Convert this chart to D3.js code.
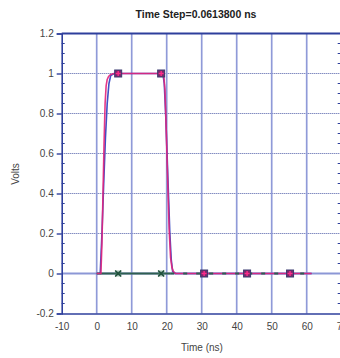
<!DOCTYPE html>
<html><head><meta charset="utf-8">
<script src="https://cdn.jsdelivr.net/npm/d3@7"></script>
<style>body{margin:0;background:#fff;}svg{display:block;font-family:"Liberation Sans",Arial,sans-serif;}</style>
</head><body>
<svg id="c" width="340" height="358"></svg>
<script>
const title = "Time Step=0.0613800 ns";
const xTicks = [-10, 0, 10, 20, 30, 40, 50, 60, 70];
const xTickLabels = ["-10", "0", "10", "20", "30", "40", "50", "60", "70"];
const yTicks = [-0.2, 0, 0.2, 0.4, 0.6, 0.8, 1, 1.2];
const yTickLabels = ["-0.2", "0", "0.2", "0.4", "0.6", "0.8", "1", "1.2"];

const blueT = [0, 1.0, 1.5, 2.0, 2.5, 3.0, 3.5, 4.0, 5.0, 18.9, 19.3, 19.7, 20.1, 20.5, 20.9, 21.3, 21.7, 22.5, 61.4];
const blueV = [0, 0, 0.2, 0.45, 0.68, 0.85, 0.95, 0.99, 1, 1, 0.95, 0.8, 0.6, 0.4, 0.2, 0.07, 0.01, 0, 0];

const pinkT = [0, 1.2, 1.5, 1.8, 2.1, 2.4, 2.7, 3.0, 3.4, 4.0, 5.0, 6.138, 18.414, 19.1, 19.5, 19.9, 20.3, 20.7, 21.1, 21.5, 21.9, 22.5, 30.69, 42.966, 55.242, 61.4];
const pinkV = [0, 0, 0.15, 0.4, 0.65, 0.85, 0.94, 0.97, 0.985, 0.995, 1, 1, 1, 1, 0.92, 0.7, 0.45, 0.22, 0.08, 0.03, 0.01, 0, 0, 0, 0, 0];

const greenT = [0, 6.138, 18.414, 21, 30.69, 42.966, 55.242, 61.4];
const greenV = [0, 0, 0, 0, 0, 0, 0, 0];

const pinkMarkT = [6.138, 18.414, 30.69, 42.966, 55.242];
const pinkMarkV = [1, 1, 0, 0, 0];
const greenMarkT = [6.138, 18.414];
const greenMarkV = [0, 0];

const svg = d3.select("#c");
const x = d3.scaleLinear().domain([-10, 70]).range([61.7, 341.7]);
const y = d3.scaleLinear().domain([-0.2, 1.2]).range([313.5, 33.5]);
const axisCol = "#2e3f9c";

// horizontal grid
svg.append("g").selectAll("line").data(yTicks.filter(d => d > -0.2 && d < 1.2)).join("line")
  .attr("x1", x(-10)).attr("x2", x(70)).attr("y1", d => y(d)).attr("y2", d => y(d))
  .attr("stroke", d => d === 0 ? "#8c97d6" : "#4c5aa6")
  .attr("stroke-width", d => d === 0 ? 1.8 : 1)
  .attr("stroke-dasharray", d => d === 0 ? null : "1,1");
// vertical grid
svg.append("g").selectAll("line").data(xTicks.filter(d => d > -10 && d < 70)).join("line")
  .attr("x1", d => x(d)).attr("x2", d => x(d)).attr("y1", y(1.2)).attr("y2", y(-0.2))
  .attr("stroke", "#8f9ad8").attr("stroke-width", 1.7);

// axes
const yAxis = d3.axisLeft(y).tickValues(yTicks).tickFormat((d, i) => yTickLabels[i]).tickSize(5).tickPadding(3);
const gy = svg.append("g").attr("transform", `translate(${x(-10)},0)`).call(yAxis);
const gx = svg.append("g").attr("transform", `translate(0,${y(-0.2)})`)
  .call(d3.axisBottom(x).tickValues(xTicks).tickFormat((d, i) => xTickLabels[i]).tickSize(0).tickPadding(9));
[gy, gx].forEach(g => {
  g.select(".domain").attr("stroke", axisCol).attr("stroke-width", 1.6);
  g.selectAll(".tick line").attr("stroke", axisCol).attr("stroke-width", 1.4);
  g.selectAll("text").attr("fill", "#444").attr("font-size", 10);
});
// minor y ticks
const minorY = d3.range(-0.2, 1.2001, 0.05).map(v => +v.toFixed(2)).filter(v => !yTicks.some(t => Math.abs(t - v) < 1e-6));
svg.append("g").selectAll("line").data(minorY).join("line")
  .attr("x1", x(-10)).attr("x2", x(-10) + 3).attr("y1", d => y(d)).attr("y2", d => y(d))
  .attr("stroke", axisCol).attr("stroke-width", 1);
svg.append("g").selectAll("line").data(minorY).join("line")
  .attr("x1", x(70) - 4).attr("x2", x(70)).attr("y1", d => y(d)).attr("y2", d => y(d))
  .attr("stroke", axisCol).attr("stroke-width", 1);
// top & right border
svg.append("line").attr("x1", x(-10)).attr("x2", x(70)).attr("y1", y(1.2)).attr("y2", y(1.2))
  .attr("stroke", axisCol).attr("stroke-width", 2);
svg.append("line").attr("x1", x(70)).attr("x2", x(70)).attr("y1", y(1.2)).attr("y2", y(-0.2))
  .attr("stroke", axisCol).attr("stroke-width", 1.6);

// curves
const line = d3.line().x(d => x(d[0])).y(d => y(d[1]));
const zip = (a, b) => a.map((t, i) => [t, b[i]]);
svg.append("path").datum(zip(blueT, blueV)).attr("d", line).attr("fill", "none")
  .attr("stroke", "#4050c4").attr("stroke-width", 1.6);
const green = zip(greenT, greenV);
svg.append("path").datum(green.filter(d => d[0] <= 21)).attr("d", line).attr("fill", "none")
  .attr("stroke", "#2f5f50").attr("stroke-width", 1.8);
svg.append("path").datum(zip(pinkT, pinkV)).attr("d", line).attr("fill", "none")
  .attr("stroke", "#e2237c").attr("stroke-width", 1.6).attr("stroke-opacity", 0.9);
svg.append("path").datum(green.filter(d => d[0] >= 21)).attr("d", line).attr("fill", "none")
  .attr("stroke", "#2f5f50").attr("stroke-width", 1.8).attr("stroke-dasharray", "4,9");

// markers
const pm = svg.append("g").selectAll("g").data(zip(pinkMarkT, pinkMarkV)).join("g")
  .attr("transform", d => `translate(${x(d[0])},${y(d[1])})`);
pm.append("rect").attr("x", -3.5).attr("y", -3.5).attr("width", 7).attr("height", 7)
  .attr("fill", "#7a2a6a").attr("stroke", "#3a3a70").attr("stroke-width", 1);
pm.append("path").attr("d", "M-2.5,0H2.5M0,-2.5V2.5").attr("stroke", "#ff2a8a").attr("stroke-width", 1.4);
const gm = svg.append("g").selectAll("g").data(zip(greenMarkT, greenMarkV)).join("g")
  .attr("transform", d => `translate(${x(d[0])},${y(d[1])})`);
gm.append("rect").attr("x", -3).attr("y", -3).attr("width", 6).attr("height", 6)
  .attr("fill", "#3d7a5e").attr("opacity", 0.5);
gm.append("path").attr("d", "M-3,-3L3,3M-3,3L3,-3").attr("stroke", "#1f4f3a").attr("stroke-width", 1.5);

// texts
svg.append("text").attr("x", 196).attr("y", 18).attr("text-anchor", "middle")
  .attr("font-size", 10.5).attr("font-weight", "bold").attr("fill", "#222").text(title);
svg.append("text").attr("x", 202).attr("y", 351).attr("text-anchor", "middle")
  .attr("font-size", 10).attr("fill", "#444").text("Time (ns)");
svg.append("text").attr("transform", "translate(19,174) rotate(-90)").attr("text-anchor", "middle")
  .attr("font-size", 10).attr("fill", "#444").text("Volts");
</script>
</body></html>
